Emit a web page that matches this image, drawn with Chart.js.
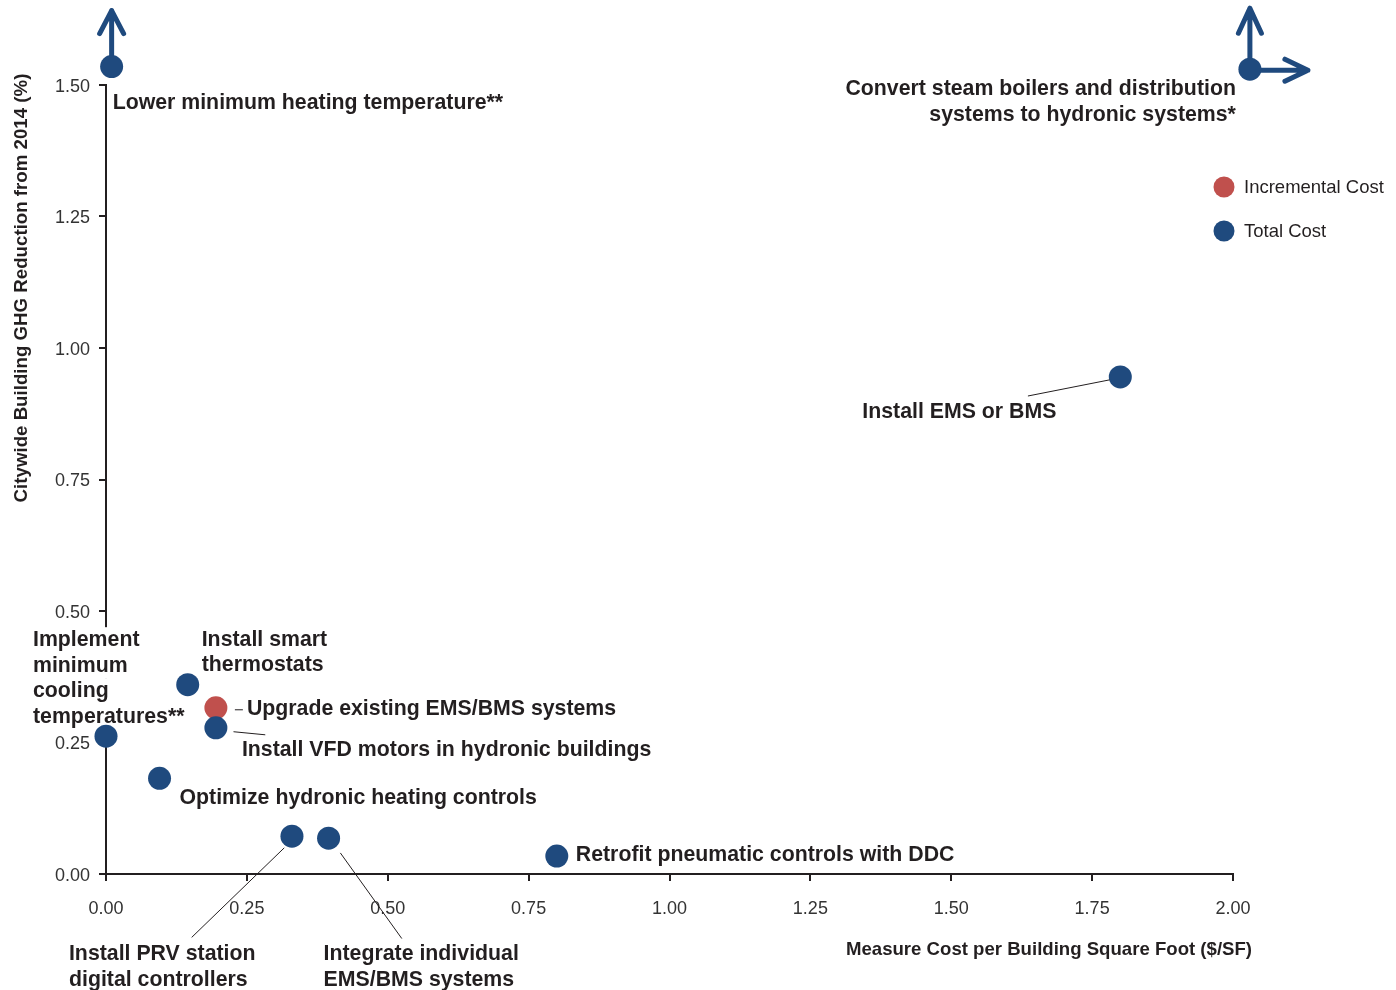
<!DOCTYPE html>
<html>
<head>
<meta charset="utf-8">
<script src="https://cdn.jsdelivr.net/npm/chart.js@4.4.1/dist/chart.umd.min.js"></script>
<style>
  html, body { margin: 0; padding: 0; background: #ffffff; }
  #wrap { width: 1396px; height: 990px; position: relative; }
</style>
</head>
<body>
<div id="wrap"><canvas id="c"></canvas></div>
<script>
// ---------- data ----------
const seriesNames = ["Incremental Cost", "Total Cost"];

const incrementalMeasures = ["Upgrade existing EMS/BMS systems"];
const incrementalCost = [0.195];
const incrementalGhg = [0.316];

const totalMeasures = [
  "Lower minimum heating temperature**",
  "Convert steam boilers and distribution systems to hydronic systems*",
  "Install EMS or BMS",
  "Install smart thermostats",
  "Install VFD motors in hydronic buildings",
  "Implement minimum cooling temperatures**",
  "Optimize hydronic heating controls",
  "Install PRV station digital controllers",
  "Integrate individual EMS/BMS systems",
  "Retrofit pneumatic controls with DDC"
];
const totalCost = [0.01, 2.03, 1.80, 0.145, 0.195, 0.00, 0.095, 0.33, 0.395, 0.80];
const totalGhg = [1.535, 1.53, 0.945, 0.36, 0.278, 0.262, 0.182, 0.072, 0.068, 0.034];

const xTicks = [0, 0.25, 0.5, 0.75, 1.0, 1.25, 1.5, 1.75, 2.0];
const yTicks = [0, 0.25, 0.5, 0.75, 1.0, 1.25, 1.5];

const xTitle = "Measure Cost per Building Square Foot ($/SF)";
const yTitle = "Citywide Building GHG Reduction from 2014 (%)";

// ---------- styles ----------
const BLUE = "#1f4a7e";
const RED = "#c0504d";
const INK = "#231f20";
const FONT = "'Liberation Sans', Arial, Helvetica, sans-serif";
const LABEL_FONT = "bold 21.3px " + FONT;

// label layout (offsets in px relative to the point, lines of text)
const labelLayout = {
  "Total Cost": [
    { lines: ["Lower minimum heating temperature**"], dx: 1, dy: 35, align: "left", arrows: [["up", 56, 12, 23]] },
    { lines: ["Convert steam boilers and distribution", "systems to hydronic systems*"], dx: -14, dy: 18, align: "right", arrows: [["up", 61, 11.5, 25], ["right", 58, 11, 23]] },
    { lines: ["Install EMS or BMS"], dx: -258, dy: 33, align: "left", leader: [-92, 19, -11, 3] },
    { lines: ["Install smart", "thermostats"], dx: 14, dy: -47, align: "left" },
    { lines: ["Install VFD motors in hydronic buildings"], dx: 26, dy: 20, align: "left", leader: [18, 4, 49, 7] },
    { lines: ["Implement", "minimum", "cooling", "temperatures**"], dx: -73, dy: -98, align: "left", whiteBg: true },
    { lines: ["Optimize hydronic heating controls"], dx: 20, dy: 18, align: "left" },
    { lines: ["Install PRV station", "digital controllers"], dx: -223, dy: 116, align: "left", leader: [-8, 12, -100, 101] },
    { lines: ["Integrate individual", "EMS/BMS systems"], dx: -5, dy: 114, align: "left", leader: [12, 15, 73, 100] },
    { lines: ["Retrofit pneumatic controls with DDC"], dx: 19, dy: -3, align: "left" }
  ],
  "Incremental Cost": [
    { lines: ["Upgrade existing EMS/BMS systems"], dx: 31, dy: -1, align: "left", leader: [19, 2, 27, 2] }
  ]
};
const LINE_H = 25.5;
const TEXT_SHIFT = 2;

function eachLabel(chart, fn) {
  chart.data.datasets.forEach((ds, di) => {
    const meta = chart.getDatasetMeta(di);
    const lay = labelLayout[ds.label];
    meta.data.forEach((pt, i) => { if (lay[i]) fn(pt, lay[i]); });
  });
}

const labelPlugin = {
  id: "labels",
  beforeDatasetsDraw(chart) {
    // white backing behind label lines that sit over the axis
    const ctx = chart.ctx;
    ctx.save();
    ctx.font = LABEL_FONT;
    eachLabel(chart, (pt, L) => {
      if (!L.whiteBg) return;
      L.lines.forEach((t, k) => {
        const w = ctx.measureText(t).width;
        const y = pt.y + L.dy + TEXT_SHIFT + k * LINE_H;
        ctx.fillStyle = "#ffffff";
        ctx.fillRect(pt.x + L.dx - 3, y - 13, w + 6, 26);
      });
    });
    ctx.restore();
  },
  afterDatasetsDraw(chart) {
    const ctx = chart.ctx;
    ctx.save();
    ctx.font = LABEL_FONT;
    ctx.textBaseline = "middle";
    eachLabel(chart, (pt, L) => {
      if (L.leader) {
        ctx.strokeStyle = INK;
        ctx.lineWidth = 1;
        ctx.beginPath();
        ctx.moveTo(pt.x + L.leader[0], pt.y + L.leader[1]);
        ctx.lineTo(pt.x + L.leader[2], pt.y + L.leader[3]);
        ctx.stroke();
      }
      if (L.arrows) {
        ctx.strokeStyle = BLUE;
        ctx.lineWidth = 5;
        ctx.lineCap = "round";
        ctx.lineJoin = "round";
        L.arrows.forEach(([dir, len, half, back]) => {
          ctx.beginPath();
          if (dir === "up") {
            const tip = pt.y - len;
            ctx.moveTo(pt.x, pt.y);
            ctx.lineTo(pt.x, tip);
            ctx.moveTo(pt.x - half, tip + back);
            ctx.lineTo(pt.x, tip);
            ctx.lineTo(pt.x + half, tip + back);
          } else {
            const tip = pt.x + len;
            ctx.moveTo(pt.x, pt.y + 1);
            ctx.lineTo(tip, pt.y + 1);
            ctx.moveTo(tip - back, pt.y + 1 - half);
            ctx.lineTo(tip, pt.y + 1);
            ctx.lineTo(tip - back, pt.y + 1 + half);
          }
          ctx.stroke();
        });
        ctx.fillStyle = BLUE;
        ctx.beginPath();
        ctx.arc(pt.x, pt.y, 11.5, 0, Math.PI * 2);
        ctx.fill();
      }
      ctx.fillStyle = INK;
      ctx.textAlign = L.align;
      L.lines.forEach((t, k) => {
        ctx.fillText(t, pt.x + L.dx, pt.y + L.dy + TEXT_SHIFT + k * LINE_H);
      });
    });
    ctx.restore();
  },
  afterDraw(chart) {
    const ctx = chart.ctx;
    ctx.save();
    // legend
    const cols = [RED, BLUE];
    ctx.font = "18.5px " + FONT;
    ctx.textBaseline = "middle";
    ctx.textAlign = "left";
    seriesNames.forEach((n, k) => {
      const y = 187 + k * 44;
      ctx.fillStyle = cols[k];
      ctx.beginPath();
      ctx.arc(1224, y, 10.5, 0, Math.PI * 2);
      ctx.fill();
      ctx.fillStyle = INK;
      ctx.fillText(n, 1244, y + 1);
    });
    // axis titles
    ctx.font = "bold 18.6px " + FONT;
    ctx.fillStyle = INK;
    ctx.textAlign = "right";
    ctx.fillText(xTitle, 1252, 950);
    ctx.font = "bold 18.7px " + FONT;
    ctx.translate(22, 288);
    ctx.rotate(-Math.PI / 2);
    ctx.textAlign = "center";
    ctx.fillText(yTitle, 0, 0);
    ctx.restore();
  }
};

const ctxEl = document.getElementById("c");
new Chart(ctxEl, {
  type: "scatter",
  data: {
    datasets: [
      {
        label: seriesNames[0],
        data: incrementalCost.map((x, i) => ({ x: x, y: incrementalGhg[i] })),
        backgroundColor: RED,
        borderColor: RED,
        pointRadius: 11.5,
        pointBorderWidth: 0,
        clip: false,
        order: 2
      },
      {
        label: seriesNames[1],
        data: totalCost.map((x, i) => ({ x: x, y: totalGhg[i] })),
        backgroundColor: BLUE,
        borderColor: BLUE,
        pointRadius: 11.5,
        pointBorderWidth: 0,
        clip: false,
        order: 1
      }
    ]
  },
  options: {
    responsive: true,
    maintainAspectRatio: false,
    animation: false,
    events: [],
    layout: { padding: { top: 85, right: 163, bottom: 0, left: 0 } },
    plugins: {
      legend: { display: false },
      tooltip: { enabled: false },
      title: { display: false }
    },
    scales: {
      x: {
        type: "linear",
        min: 0,
        max: 2,
        afterFit(s) { s.height = 116; },
        afterBuildTicks(s) { s.ticks = xTicks.map(v => ({ value: v })); },
        border: { display: true, color: INK, width: 2 },
        grid: { drawOnChartArea: false, drawTicks: true, tickLength: 7, color: INK, lineWidth: 2 },
        ticks: {
          color: "#333333",
          font: { family: FONT, size: 18 },
          padding: 17,
          maxRotation: 0,
          callback: v => Number(v).toFixed(2)
        }
      },
      y: {
        type: "linear",
        min: 0,
        max: 1.5,
        afterFit(s) { s.width = 106; },
        afterBuildTicks(s) { s.ticks = yTicks.map(v => ({ value: v })); },
        border: { display: true, color: INK, width: 2 },
        grid: { drawOnChartArea: false, drawTicks: true, tickLength: 7, color: INK, lineWidth: 2 },
        ticks: {
          color: "#333333",
          font: { family: FONT, size: 18 },
          padding: 9,
          labelOffset: 2,
          callback: v => Number(v).toFixed(2)
        }
      }
    }
  },
  plugins: [labelPlugin]
});
</script>
</body>
</html>
